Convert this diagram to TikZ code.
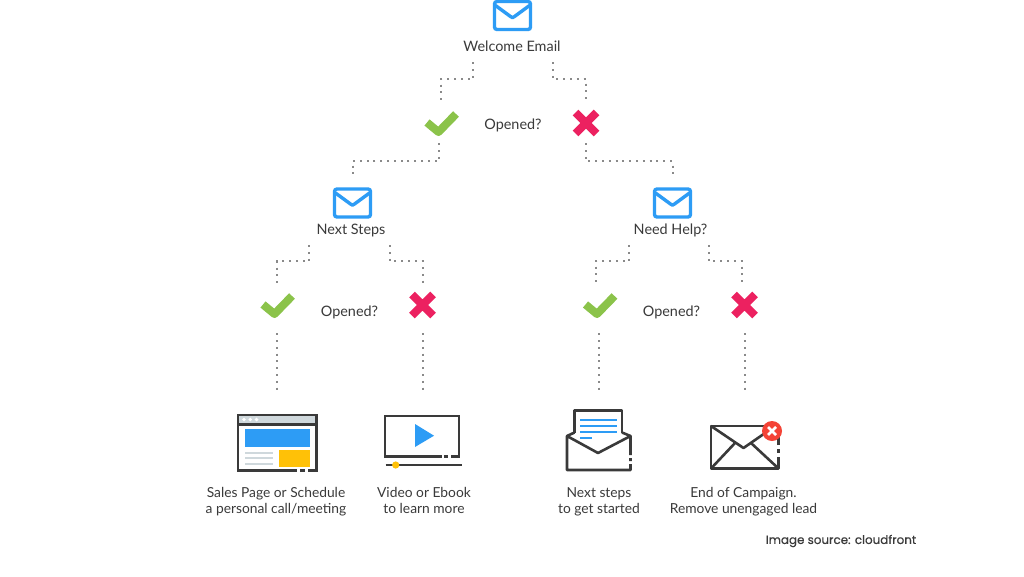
\documentclass[tikz,border=0pt]{standalone}
\usepackage{fontspec}
\setmainfont{Lato}
\newfontfamily\srcfont[FakeBold=0.5]{Poppins}
\definecolor{ink}{HTML}{3A3A3A}
\definecolor{mailblue}{HTML}{2D9CF5}
\definecolor{okgreen}{HTML}{8BC34A}
\definecolor{nored}{HTML}{EC2160}
\definecolor{badred}{HTML}{F44336}
\definecolor{amber}{HTML}{FFC107}
\definecolor{pale}{HTML}{CFD8DC}
\definecolor{dotgray}{HTML}{8A8A8A}

\tikzstyle{tag}=[inner sep=0pt,minimum height=32pt,text height=10pt,text depth=0pt,text=ink,font=\fontsize{14.4}{16}\selectfont]
\tikzstyle{caption}=[inner sep=0pt,anchor=base,align=center,text=ink,font=\fontsize{13.8}{16}\selectfont]
\tikzstyle{hit}=[inner sep=0pt,minimum width=34pt,minimum height=40pt]
\tikzstyle{slot}=[inner sep=0pt,minimum width=40pt,minimum height=50pt]
\tikzstyle{dots}=[dotgray,line width=2pt,dash pattern=on 2pt off 4.8pt]
\tikzstyle{outline}=[ink,line width=2.6pt]

\tikzset{
  mail/.pic={
    \draw[mailblue,line width=3.4pt,rounded corners=2.5pt] (-18,-14) rectangle (18,14);
    \draw[mailblue,line width=3.4pt,line join=round] (-17,-10) -- (-2,1) .. controls (0,2.5) .. (2,1) -- (17,-10);
  },
  okmark/.pic={
    \draw[okgreen,line width=8pt,line join=round] (-14,-0.5) -- (-2.5,9) -- (15,-9);
  },
  nomark/.pic={
    \draw[nored,line width=8pt] (-10.5,-10.5) -- (10.5,10.5) (-10.5,10.5) -- (10.5,-10.5);
  }
}

\begin{document}
\begin{tikzpicture}[x=1pt,y=-1pt]
    \useasboundingbox[fill=white] (0,0) rectangle (1024,576);
    % mails and their names
    \pic at (512.5,15.5) {mail};
    \node[slot] (boxb) at (352.5,203) {};
    \node[slot] (boxc) at (672.5,203) {};
    \pic at (boxb) {mail};
    \pic at (boxc) {mail};
    \node[tag] (welcome) at (512,46) {Welcome Email};
    \node[tag] (steps) at (351,229) {Next Steps};
    \node[tag] (help) at (670.5,229) {Need Help?};
    % the answers
    \node[hit] (yesa) at (441,123) {};
    \node[hit] (noa) at (586,123) {};
    \node[hit] (yesb) at (277,305) {};
    \node[hit] (nob) at (422.5,305) {};
    \node[hit] (yesc) at (599.5,305) {};
    \node[hit] (noc) at (744.5,305) {};
    \pic at (yesa) {okmark};
    \pic at (noa) {nomark};
    \pic at (yesb) {okmark};
    \pic at (nob) {nomark};
    \pic at (yesc) {okmark};
    \pic at (noc) {nomark};
    \node[tag] (opena) at (513,124) {Opened?};
    \node[tag] (openb) at (349.5,311) {Opened?};
    \node[tag] (openc) at (671.5,311) {Opened?};
    % free ends of the last lines
    \coordinate (enda) at (276.5,393);
    \coordinate (endb) at (422.5,393);
    \coordinate (endc) at (598.5,393);
    \coordinate (endd) at (744.5,393);
    % dotted lines
    \draw[dots] ([xshift=-39pt]welcome.south) -- ++(0,17) -| (yesa.north);
    \draw[dots] ([xshift=41pt]welcome.south) -- ++(0,17) -| (noa.north);
    \draw[dots] ([xshift=-2pt]yesa.south) -- ++(0,18) -| (boxb.north);
    \draw[dots] (noa.south) -- ++(0,18) -| (boxc.north);
    \draw[dots] ([xshift=-42pt]steps.south) -- ++(0,16) -| (yesb.north);
    \draw[dots] ([xshift=39pt]steps.south) -- ++(0,16) -| (nob.north);
    \draw[dots] ([xshift=-41.5pt]help.south) -- ++(0,16) -| ([xshift=-3.5pt]yesc.north);
    \draw[dots] ([xshift=38.5pt]help.south) -- ++(0,16) -| ([xshift=-2.5pt]noc.north);
    \draw[dots] ([xshift=-0.5pt,yshift=-8pt]yesb.south) -- (enda);
    \draw[dots] ([yshift=-8pt]nob.south) -- (endb);
    \draw[dots] ([xshift=-1pt,yshift=-8pt]yesc.south) -- (endc);
    \draw[dots] ([yshift=-8pt]noc.south) -- (endd);
    % sales page
    \fill[pale] (237,414) rectangle (317,424);
    \fill[white] (244,419.5) circle (1.9) (250.3,419.5) circle (1.9) (256.6,419.5) circle (1.9);
    \fill[mailblue] (244.5,429) rectangle (310,446.7);
    \fill[amber] (279,449.5) rectangle (310,466.7);
    \draw[pale,line width=2pt] (245,452.5) -- (273,452.5) (245,458) -- (273,458) (245,464) -- (273,464);
    \draw[outline] (296.5,470.5) -- (238,470.5) -- (238,415) -- (316.5,415) -- (316.5,470.5) -- (308,470.5) (300,470.5) -- (305,470.5) (238,424.5) -- (316.5,424.5);
    % video
    \fill[mailblue] (415,424) -- (434,435.7) -- (415,447) -- cycle;
    \draw[outline] (441.7,456.5) -- (385,456.5) -- (385,416) -- (459,416) -- (459,456.5) -- (451,456.5) (443.5,456.5) -- (448,456.5);
    \draw[outline] (385.5,465) -- (461.5,465);
    \fill[amber] (395.7,465) circle (3.6);
    % open envelope
    \draw[outline,line join=round] (574.5,433) -- (574.5,410.5) -- (622,410.5) -- (622,433);
    \draw[mailblue,line width=1.6pt] (580,420) -- (617,420) (580,426) -- (617,426) (580,432) -- (617,432) (580,438) -- (592,438);
    \draw[outline,line join=round] (630.5,455) -- (630.5,436) -- (598,453) -- (567,436) -- (567,470) -- (630.5,470) -- (630.5,464) (630.5,458) -- (630.5,461) (567,436) -- (574.5,432.5) (630.5,436) -- (622,432.5);
    % closed envelope
    \draw[outline,line join=round] (778.5,445) -- (778.5,430) (765,426) -- (711,426) -- (711,468.5) -- (778.5,468.5) -- (778.5,457) (778.5,449) -- (778.5,453);
    \draw[outline,line join=round] (711,426) -- (743.5,448) -- (768,431) (711,468.5) -- (735,443) (778.5,468.5) -- (751,443);
    \fill[badred] (772,431) circle (10);
    \draw[white,line width=2.6pt] (768,427) -- (776,435) (768,435) -- (776,427);
    % captions
    \node[caption] (sales) at (276,513.5) {Sales Page or Schedule\\a personal call/meeting};
    \node[caption] (video) at (424,513.5) {Video or Ebook\\to learn more};
    \node[caption] (start) at (599,513.5) {Next steps\\to get started};
    \node[caption] (final) at (743.5,513.5) {End of Campaign.\\Remove unengaged lead};
    \node[inner sep=0pt,text=ink,font=\srcfont\fontsize{11.9}{14}\selectfont] (source) at (841,541) {Image source: cloudfront};
\end{tikzpicture}
\end{document}
